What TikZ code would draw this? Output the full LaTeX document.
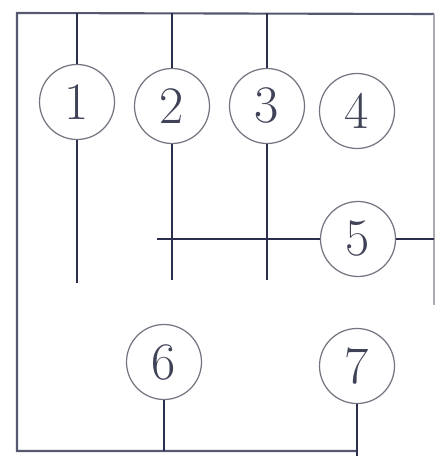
\documentclass[tikz,border=0pt]{standalone}
\usepackage{tikz}
\usetikzlibrary{positioning}

\definecolor{inkline}{rgb}{0.17,0.18,0.30}
\definecolor{inkring}{rgb}{0.45,0.46,0.50}
\definecolor{inktext}{rgb}{0.25,0.26,0.34}

\tikzset{
  ring/.style={circle, draw=inkring, line width=0.7pt, minimum size=75*0.02cm,
               inner sep=0pt, text=inktext, font=\fontsize{30}{30}\selectfont},
  wire/.style={draw=inkline, line width=1.1pt},
  edge/.style={draw=inkline!80, line width=1.2pt}
}

\begin{document}
\begin{tikzpicture}[x=0.02cm, y=-0.02cm]

% ---------- canvas ----------
\useasboundingbox (0,0) rectangle (437,456);
\fill[white] (0,0) rectangle (437,456);

% ---------- frame corners ----------
\coordinate (tl) at (17,13);
\coordinate (tr) at (434,14);
\coordinate (bl) at (17,451);
\coordinate (rb) at (434,305);

% ---------- numbered circles ----------
\node[ring] (c1) at (77,102)  {1};
\node[ring] (c2) at (172,106) {2};
\node[ring] (c3) at (267,106) {3};
\node[ring] (c4) at (357,111) {4};
\node[ring] (c5) at (358,239) {5};
\node[ring] (c6) at (164,362) {6};
\node[ring] (c7) at (357,366) {7};

% ---------- frame ----------
\draw[edge] (tr) -- (tl) -- (bl) -- (bl -| c7.south);
\draw[edge, draw=inkring!60] (tr) -- (rb);

% ---------- vertical wires through circles 1--3 ----------
\foreach \c/\yend in {c1/283, c2/280, c3/280} {
  \coordinate (\c top) at (\c.north |- tl);
  \coordinate (\c end) at ([yshift=0]\c.south |- 0,\yend);
  \draw[wire] (\c top) -- (\c.north);
  \draw[wire] (\c.south) -- (\c end);
}

% ---------- horizontal wire through circle 5 ----------
\coordinate (hstart) at (157,239);
\coordinate (hend) at (434,239);
\draw[wire] (hstart) -- (c5.west);
\draw[wire] (c5.east) -- (hend);

% ---------- drops from circles 6 and 7 ----------
\coordinate (c6foot) at (c6.south |- bl);
\coordinate (c7foot) at (357,456);
\draw[wire] (c6.south) -- (c6foot);
\draw[wire] (c7.south) -- (c7foot);

\end{tikzpicture}
\end{document}
